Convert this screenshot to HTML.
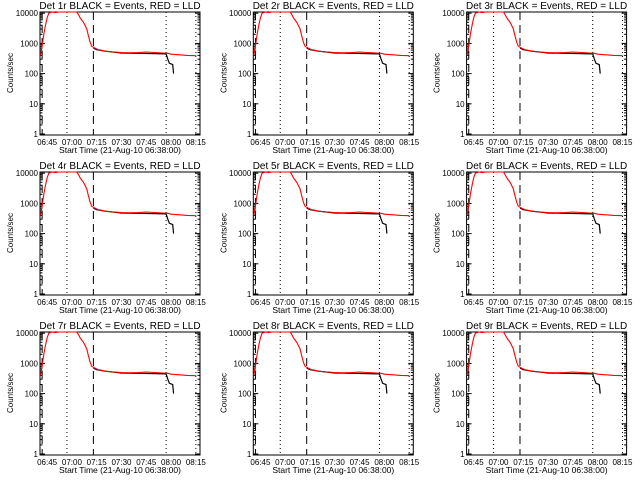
<!DOCTYPE html>
<html><head><meta charset="utf-8"><style>
body{margin:0;background:#fff;}
svg{display:block;font-family:"Liberation Sans",sans-serif;}
</style></head><body>
<svg id="c" width="640" height="480"></svg>
<script>
const detectors=['1r','2r','3r','4r','5r','6r','7r','8r','9r'];
const xTickLabels=['06:45','07:00','07:15','07:30','07:45','08:00','08:15'];
const xTickMinutes=[45,60,75,90,105,120,135];
const yTickValues=[1,10,100,1000,10000];
const yTickLabels=['1','10','100','1000','10000'];
const redTimes=[41,42,43,44,45,46,48,50,52,55,60,63,64,65,67,69,70,71,72,74,76,80,85,90,95,100,105,110,115,118,120,125,130,135];
const redValues=[400,800,2000,4000,7000,10000,11000,10500,11000,11000,11000,11000,9000,7000,5000,3000,1800,1100,800,700,620,560,520,500,490,500,520,500,480,470,440,420,400,390];
const blackTimes=[73,75,80,90,100,110,117,118,119,121,121.5];
const blackValues=[700,620,550,480,470,460,450,300,220,200,100];
const dashedLines=[42,73];
const dottedLines=[57,117,135];
const NS='http://www.w3.org/2000/svg';
const svg=document.getElementById('c');
function mk(tag,attrs,parent){const e=document.createElementNS(NS,tag);for(const k in attrs)e.setAttribute(k,attrs[k]);parent.appendChild(e);return e;}
detectors.forEach((d,i)=>{
  const ox=(i%3)*213.3, oy=Math.floor(i/3)*160;
  const L=ox+40,R=ox+200,T=oy+12,B=oy+135;
  const xs=m=>L+(m-40.7)*(R-L)/(137.5-40.7);
  const ys=v=>oy+134-30.2*Math.log10(v);
  const g=mk('g',{},svg);
  
  
  const t=mk('text',{x:ox+120,y:oy+9,'text-anchor':'middle','font-size':'10'},g);
  t.textContent='Det '+d+' BLACK = Events, RED = LLD';
  
  
  const yl=mk('text',{x:0,y:0,'text-anchor':'middle','font-size':'8',transform:`translate(${ox+13},${oy+73}) rotate(-90)`},g);
  yl.textContent='Counts/sec';
  
  
  const xl=mk('text',{x:ox+120,y:oy+153,'text-anchor':'middle','font-size':'8.5'},g);
  xl.textContent='Start Time (21-Aug-10 06:38:00)';
  
  
  const box=mk('rect',{x:L,y:T,width:R-L,height:B-T,fill:'none',stroke:'#000','stroke-width':1},g);
  
  
  yTickValues.forEach((v,k)=>{
    const y=ys(v);
    mk('line',{x1:L,x2:L+5,y1:y,y2:y,stroke:'#000'},g);
    mk('line',{x1:R,x2:R-5,y1:y,y2:y,stroke:'#000'},g);
    if(k<4)for(let m=2;m<10;m++){const yy=ys(v*m);mk('line',{x1:L,x2:L+2.5,y1:yy,y2:yy,stroke:'#000'},g);mk('line',{x1:R,x2:R-2.5,y1:yy,y2:yy,stroke:'#000'},g);}
    const tl=mk('text',{x:L-2,y:y+3,'text-anchor':'end','font-size':'8'},g);
    tl.textContent=yTickLabels[k];
    
    
  });
  xTickMinutes.forEach((m,k)=>{
    const x=xs(m);
    const tl=mk('text',{x:x,y:oy+145,'text-anchor':'middle','font-size':'8'},g);
    tl.textContent=xTickLabels[k];
    
    
  });
  dashedLines.forEach(m=>{const l=mk('line',{x1:xs(m),x2:xs(m),y1:T,y2:B,stroke:'#000','stroke-dasharray':'8,5'},g);
    });
  dottedLines.forEach(m=>{const l=mk('line',{x1:xs(m),x2:xs(m),y1:T,y2:B,stroke:'#000','stroke-dasharray':'1,3'},g);
    });
  const bp=blackTimes.map((m,k)=>xs(m).toFixed(1)+','+Math.max(T,ys(blackValues[k])).toFixed(1)).join(' ');
  const bl=mk('polyline',{points:bp,fill:'none',stroke:'#000','stroke-width':1.2},g);
  
  
  const rp=redTimes.map((m,k)=>xs(m).toFixed(1)+','+Math.max(T,ys(redValues[k])).toFixed(1)).join(' ');
  const rl=mk('polyline',{points:rp,fill:'none',stroke:'#f00','stroke-width':1.1},g);
  
  
});
</script>
</body></html>
